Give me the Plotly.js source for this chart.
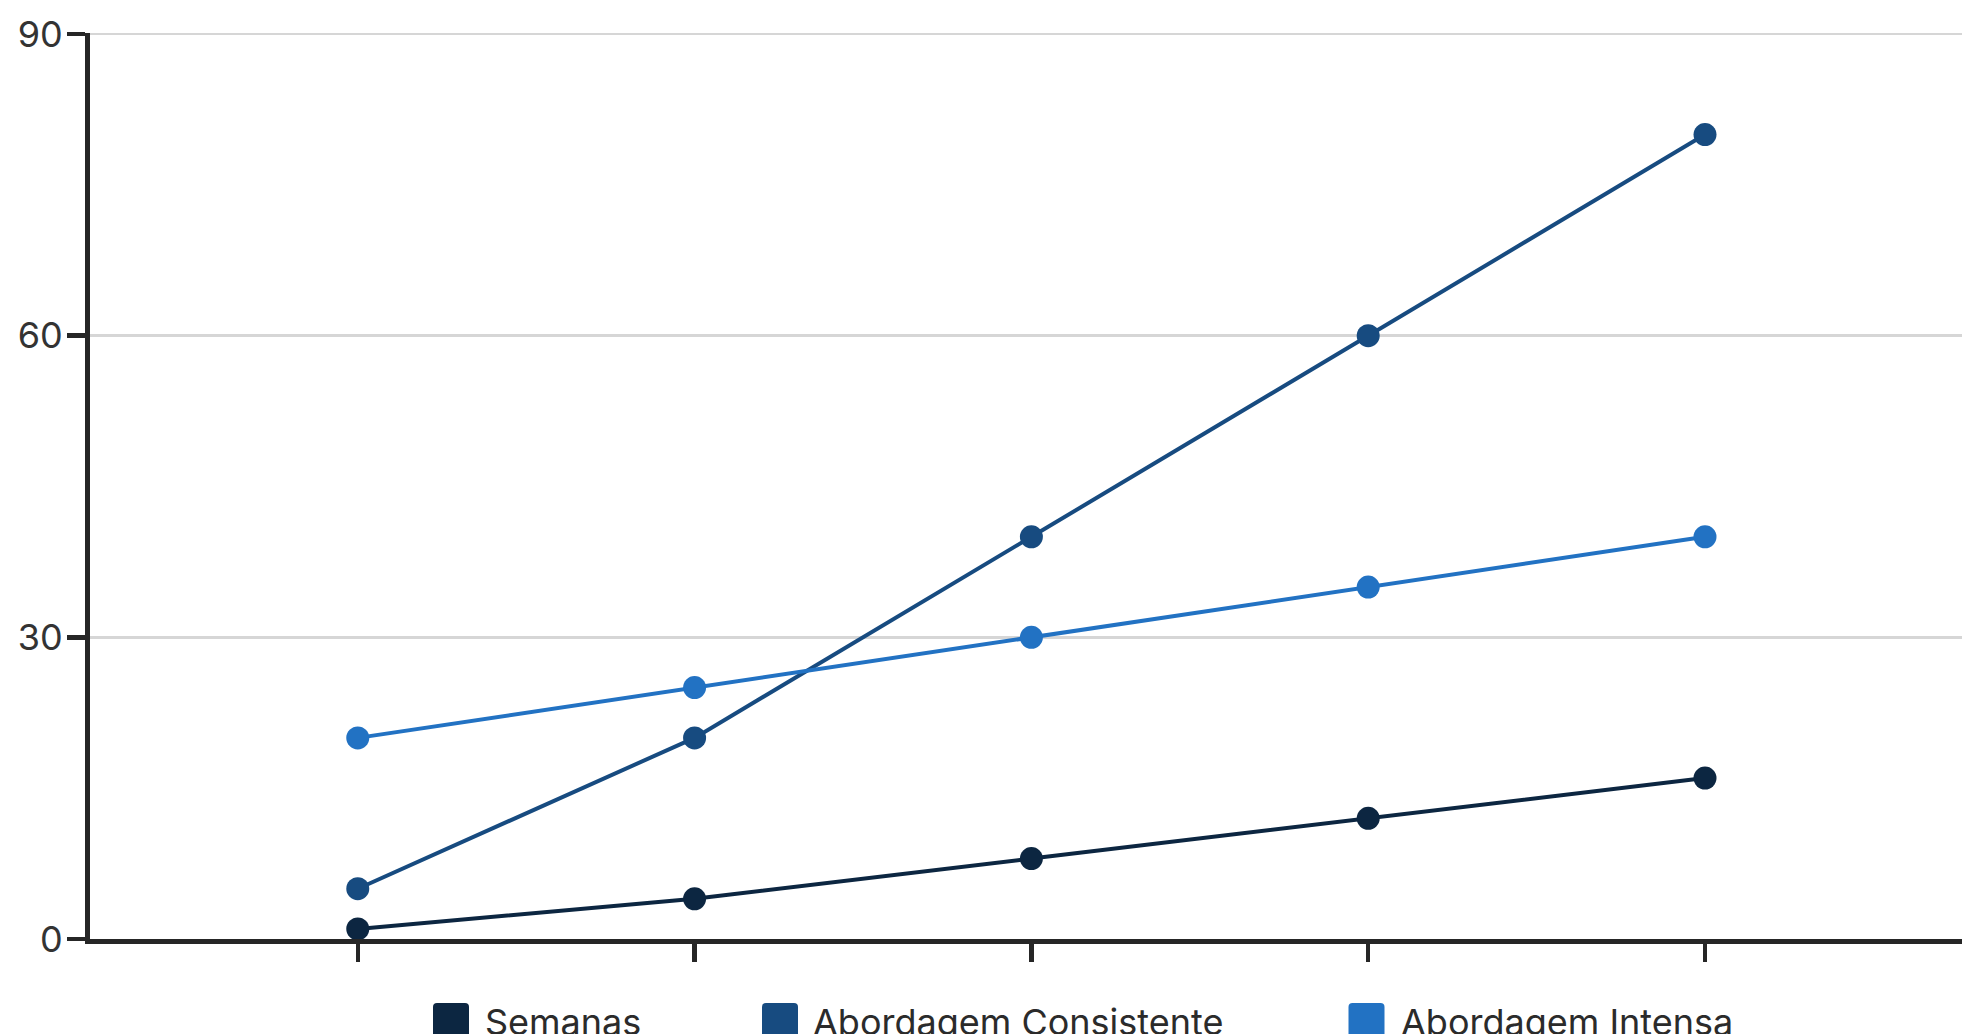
<!DOCTYPE html>
<html>
<head>
<meta charset="utf-8">
<script src="https://cdn.plot.ly/plotly-3.0.1.min.js"></script>
<style>
  html, body { margin: 0; padding: 0; background: #ffffff; overflow: hidden; }
  #chart { width: 1962px; height: 1034px; }
</style>
</head>
<body>
<div id="chart"></div>
<script>
// ---- data ----
const points = [0, 1, 2, 3, 4];
const seriesNames = ['Semanas', 'Abordagem Consistente', 'Abordagem Intensa'];
const semanas = [1, 4, 8, 12, 16];
const consistente = [5, 20, 40, 60, 80];
const intensa = [20, 25, 30, 35, 40];
const seriesColors = ['#0c2641', '#174b80', '#2272c3'];
const yTicks = [0, 30, 60, 90];

// ---- layout geometry (pixels) ----
const W = 1962, H = 1034;
const M = { l: 90, r: 0, t: 33, b: 95 };
const plotW = W - M.l - M.r, plotH = H - M.t - M.b;
const px2x = p => (p - M.l) / plotW;
const py2y = p => (H - M.b - p) / plotH;

const values = [semanas, consistente, intensa];
const traces = values.map((v, i) => ({
  type: 'scatter',
  mode: 'lines+markers',
  x: points,
  y: v,
  name: seriesNames[i],
  line: { color: seriesColors[i], width: 4 },
  marker: { color: seriesColors[i], size: 23 },
  showlegend: false,
  cliponaxis: false,
  hoverinfo: 'skip'
}));

// custom legend (rounded squares + labels)
const legendCentersX = [451, 780, 1366.5];
const legendTextX = [483, 811, 1399];
const sq = 18, rr = 4;
const roundedSquare = `M ${-sq + rr},${-sq} L ${sq - rr},${-sq} Q ${sq},${-sq} ${sq},${-sq + rr} L ${sq},${sq - rr} Q ${sq},${sq} ${sq - rr},${sq} L ${-sq + rr},${sq} Q ${-sq},${sq} ${-sq},${sq - rr} L ${-sq},${-sq + rr} Q ${-sq},${-sq} ${-sq + rr},${-sq} Z`;

const shapes = seriesNames.map((n, i) => ({
  type: 'path',
  xref: 'paper', yref: 'paper',
  xsizemode: 'pixel', ysizemode: 'pixel',
  xanchor: px2x(legendCentersX[i]), yanchor: py2y(1021),
  path: roundedSquare,
  fillcolor: seriesColors[i],
  line: { width: 0 },
  layer: 'above'
}));

const annotations = seriesNames.map((n, i) => ({
  text: n,
  xref: 'paper', yref: 'paper',
  x: px2x(legendTextX[i]), y: py2y(1022),
  xanchor: 'left', yanchor: 'middle',
  showarrow: false,
  font: { family: 'Inter, sans-serif', size: 36, color: '#2b2b2b' }
}));

const layout = {
  width: W, height: H,
  margin: M,
  paper_bgcolor: '#ffffff',
  plot_bgcolor: '#ffffff',
  font: { family: 'Inter, sans-serif', size: 36, color: '#2b2b2b' },
  showlegend: false,
  xaxis: {
    range: [-0.795, 4.763],
    tickvals: points,
    showticklabels: false,
    showgrid: false,
    zeroline: false,
    showline: true,
    linecolor: '#262626',
    linewidth: 5,
    ticks: 'outside',
    ticklen: 18,
    tickwidth: 4.5,
    tickcolor: '#262626',
    fixedrange: true
  },
  yaxis: {
    range: [0, 90.1],
    tickvals: yTicks,
    showgrid: true,
    gridcolor: '#d6d6d6',
    gridwidth: 2.5,
    zeroline: false,
    showline: true,
    linecolor: '#262626',
    linewidth: 5,
    ticks: 'outside',
    ticklen: 18,
    tickwidth: 4.5,
    tickcolor: '#262626',
    ticklabelstandoff: -3,
    tickfont: { family: 'Inter, sans-serif', size: 36, color: '#333333' },
    fixedrange: true
  },
  shapes: shapes,
  annotations: annotations
};

Plotly.newPlot('chart', traces, layout, { displayModeBar: false, staticPlot: true });
</script>
</body>
</html>
